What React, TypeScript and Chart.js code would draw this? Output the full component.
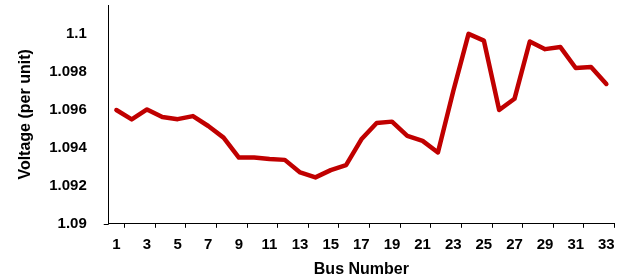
import React, { useEffect, useRef } from "react";
import { Chart, registerables } from "chart.js";

Chart.register(...registerables);

const busNumbers: string[] = Array.from({ length: 33 }, (_, i) => String(i + 1));
const voltages: number[] = [
  1.09598, 1.09549, 1.09601, 1.09561, 1.0955, 1.09566, 1.09514, 1.09453, 1.09348, 1.09348,
  1.0934, 1.09336, 1.0927, 1.09244, 1.09282, 1.09308, 1.09444, 1.0953, 1.09537, 1.09462,
  1.09436, 1.09375, 1.09697, 1.09998, 1.09963, 1.09598, 1.09657, 1.09958, 1.09918, 1.09929,
  1.09819, 1.09824, 1.09735,
];
const yTicks: number[] = [1.09, 1.092, 1.094, 1.096, 1.098, 1.1];
const yMin = 1.09;
const yMax = 1.1015;

const FONT = "'Liberation Sans', Arial, sans-serif";
const SHIFT = 18;

const xTickMarks = {
  id: "xTickMarks",
  afterDraw(chart: any) {
    const x = chart.scales.x;
    const ctx = chart.ctx;
    const { bottom, left } = chart.chartArea;
    ctx.save();
    ctx.strokeStyle = "#000";
    ctx.lineWidth = 1;
    for (let i = 0; i < busNumbers.length; i += 2) {
      let px: number;
      if (i + 1 < busNumbers.length) {
        px = (x.getPixelForValue(i) + x.getPixelForValue(i + 1)) / 2;
      } else {
        px = x.getPixelForValue(i) + (x.getPixelForValue(i) - x.getPixelForValue(i - 1)) / 2;
      }
      px = Math.round(px) + 0.5;
      ctx.beginPath();
      ctx.moveTo(px, bottom);
      ctx.lineTo(px, bottom + 4);
      ctx.stroke();
    }
    ctx.beginPath();
    ctx.moveTo(left - 5, Math.round(bottom) + 0.5);
    ctx.lineTo(left, Math.round(bottom) + 0.5);
    ctx.stroke();
    ctx.restore();
  },
};

export default function App() {
  const ref = useRef<HTMLCanvasElement | null>(null);
  useEffect(() => {
    document.body.style.margin = "0";
    if (!ref.current) return;
    const chart = new Chart(ref.current, {
      type: "line",
      data: {
        labels: busNumbers,
        datasets: [
          {
            data: voltages,
            borderColor: "#C00000",
            borderWidth: 4.5,
            pointRadius: 0,
            tension: 0,
            borderJoinStyle: "round",
            borderCapStyle: "round",
            fill: false,
          },
        ],
      },
      options: {
        responsive: false,
        animation: false,
        maintainAspectRatio: false,
        layout: { padding: { left: 16, right: 17, top: 0, bottom: 0 } },
        plugins: { legend: { display: false }, tooltip: { enabled: false } },
        scales: {
          x: {
            type: "category",
            offset: true,
            grid: { display: false },
            border: { display: true, color: "#000", width: 1 },
            ticks: {
              autoSkip: false,
              maxRotation: 0,
              padding: 4,
              color: "#000",
              font: { family: FONT, size: 15, weight: "bold" },
              callback: (_v: any, i: number) => (i % 2 === 0 ? busNumbers[i] : ""),
            },
            title: {
              display: true,
              text: "Bus Number",
              color: "#000",
              font: { family: FONT, size: 16, weight: "bold" },
              padding: { top: 2, bottom: 0 },
            },
          },
          y: {
            min: yMin,
            max: yMax,
            grid: { display: false },
            border: { display: true, color: "#000", width: 1 },
            afterBuildTicks: (scale: any) => {
              scale.ticks = yTicks.map((v) => ({ value: v }));
            },
            ticks: {
              padding: 14,
              color: "#000",
              font: { family: FONT, size: 15, weight: "bold" },
              callback: (v: any) => String(Number(v.toFixed(3))),
            },
            title: {
              display: true,
              text: "Voltage (per unit)",
              color: "#000",
              font: { family: FONT, size: 16, weight: "bold" },
              padding: { top: 0, bottom: 0 },
            },
          },
        },
      },
      plugins: [xTickMarks],
    });
    return () => chart.destroy();
  }, []);
  return (
    <div style={{ width: 631, height: 279, overflow: "hidden" }}>
      <canvas
        ref={ref}
        width={631}
        height={279 + SHIFT}
        style={{ display: "block", marginTop: -SHIFT }}
      />
    </div>
  );
}
